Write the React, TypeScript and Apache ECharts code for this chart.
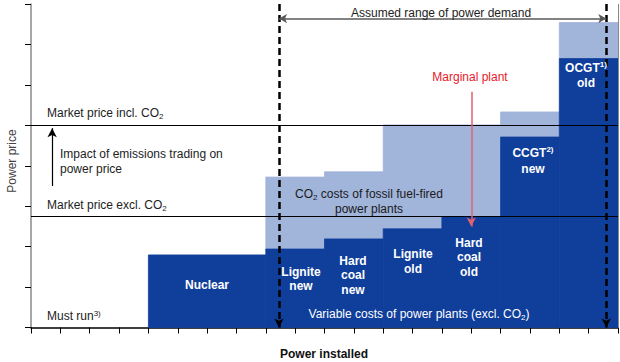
import React, { useEffect, useRef } from "react";
import * as echarts from "echarts";

// ---- data ----
const plants = ["Nuclear", "Lignite new", "Hard coal new", "Lignite old", "Hard coal old", "CCGT new", "OCGT old"];
const capacityStart = [4, 8, 10, 12, 14, 16, 18];
const capacityEnd = [8, 10, 12, 14, 16, 18, 20];
const variableCost = [1.79, 1.94, 2.19, 2.44, 2.73, 4.71, 6.65];
const costInclCO2 = [1.79, 3.72, 3.85, 5.01, 5.01, 5.33, 7.54];
const marketPriceIncl = 5.0;
const marketPriceExcl = 2.76;
const demandRange = [8.45, 19.6];
const marginalPlantX = 15;
const xTicks = { min: 0, max: 20, step: 1 };
const yTicks = { min: 0, max: 8, step: 1 };

const DARK = "#0f3e9b";
const LIGHT = "#a1b4da";
const FONT = "'Liberation Sans', Arial, sans-serif";

const sub = (t: string) => ({ n: { fontSize: 12, lineHeight: 14, fontFamily: FONT, fill: t }, s: { fontSize: 8, lineHeight: 8, verticalAlign: "bottom", fontFamily: FONT, fill: t } });

export default function App() {
  const ref = useRef<HTMLDivElement>(null);
  useEffect(() => {
    document.body.style.margin = "0";
    const chart = echarts.init(ref.current!, null, { renderer: "svg" });

    const rectItem = (color: string) => (params: any, api: any) => {
      const p0 = api.coord([api.value(0), api.value(3)]);
      const p1 = api.coord([api.value(1), api.value(2)]);
      return {
        type: "rect",
        shape: { x: p0[0], y: p0[1], width: p1[0] - p0[0], height: p1[1] - p0[1] },
        style: { fill: color, stroke: color, lineWidth: 0.8 },
      };
    };

    const co2Data = plants.map((_, i) => [capacityStart[i], capacityEnd[i], variableCost[i], costInclCO2[i]]);
    const varData = plants.map((_, i) => [capacityStart[i], capacityEnd[i], 0, variableCost[i]]);

    const whiteBold = (text: string, x: number, y: number) => ({
      type: "text",
      x,
      y,
      z: 50,
      style: { text, fill: "#fff", font: `bold 12px ${FONT}`, textAlign: "center", textVerticalAlign: "middle", lineHeight: 14.5 },
    });

    const supLabel = (main: string, sup: string, second: string, x: number, y: number) => ({
      type: "text",
      x,
      y,
      z: 50,
      style: {
        text: `{b|${main}}{s|${sup}}\n{b|${second}}`,
        textAlign: "center",
        textVerticalAlign: "middle",
        rich: {
          b: { fontSize: 12, fontWeight: "bold", lineHeight: 15.5, fontFamily: FONT, fill: "#fff" },
          s: { fontSize: 8, fontWeight: "bold", lineHeight: 8, verticalAlign: "top", fontFamily: FONT, fill: "#fff" },
        },
      },
    });

    chart.setOption({
      animation: false,
      grid: { left: 31, right: 2, top: 4, bottom: 34.5 },
      xAxis: {
        type: "value",
        min: xTicks.min,
        max: xTicks.max,
        interval: xTicks.step,
        axisLine: { show: true, onZero: false, lineStyle: { color: "#000", width: 1.5 } },
        axisTick: { show: true, length: 6, lineStyle: { color: "#000", width: 1 } },
        axisLabel: { show: false },
        splitLine: { show: false },
      },
      yAxis: {
        type: "value",
        min: yTicks.min,
        max: yTicks.max,
        interval: yTicks.step,
        axisLine: { show: true, onZero: false, lineStyle: { color: "#8a8a8a", width: 1.5 } },
        axisTick: { show: true, length: 6, lineStyle: { color: "#000", width: 1 } },
        axisLabel: { show: false },
        splitLine: { show: false },
      },
      series: [
        { type: "custom", renderItem: rectItem(LIGHT), data: co2Data, encode: { x: [0, 1], y: [2, 3] }, z: 2, silent: true },
        { type: "custom", renderItem: rectItem(DARK), data: varData, encode: { x: [0, 1], y: [2, 3] }, z: 3, silent: true },
        {
          type: "line",
          data: [],
          z: 5,
          markLine: {
            silent: true,
            symbol: ["none", "none"],
            label: { show: false },
            lineStyle: { color: "#000", width: 1.2, type: "solid" },
            data: [
              [{ coord: [xTicks.min, marketPriceIncl] }, { coord: [xTicks.max, marketPriceIncl] }],
              [{ coord: [xTicks.min, marketPriceExcl] }, { coord: [xTicks.max, marketPriceExcl] }],
              [{ coord: [xTicks.max, yTicks.min], lineStyle: { color: "#8a8a8a", width: 1 } }, { coord: [xTicks.max, yTicks.max] }],
            ],
          },
        },
        {
          type: "line",
          data: [],
          z: 6,
          markLine: {
            silent: true,
            symbol: ["none", "arrow"],
            symbolSize: [7, 9],
            label: { show: false },
            lineStyle: { color: "#000", width: 2.5, type: [7, 4] },
            data: [
              [{ coord: [demandRange[0], yTicks.max] }, { coord: [demandRange[0], yTicks.min] }],
              [{ coord: [demandRange[1], yTicks.max] }, { coord: [demandRange[1], yTicks.min] }],
            ],
          },
        },
        {
          type: "line",
          data: [],
          z: 7,
          markLine: {
            silent: true,
            symbol: ["arrow", "arrow"],
            symbolSize: [7, 8],
            label: { show: false },
            lineStyle: { color: "#5a5a5a", width: 1.5, type: "solid" },
            data: [[{ coord: [demandRange[0], 7.64] }, { coord: [demandRange[1], 7.64] }]],
          },
        },
        {
          type: "line",
          data: [],
          z: 7,
          markLine: {
            silent: true,
            symbol: ["none", "arrow"],
            symbolSize: [7, 9],
            label: { show: false },
            data: [
              [{ coord: [marginalPlantX, 5.83], lineStyle: { color: "#e06070", width: 1.5, type: "solid" }, itemStyle: { color: "#e8202a" } }, { coord: [marginalPlantX, 2.5] }],
              [{ coord: [0.72, 3.5], lineStyle: { color: "#000", width: 1.2, type: "solid" }, itemStyle: { color: "#000" } }, { coord: [0.72, 4.93] }],
            ],
          },
        },
      ],
      graphic: [
        { type: "text", x: 441, y: 12.5, z: 50, style: { text: "Assumed range of power demand", fill: "#222", font: `12px ${FONT}`, textAlign: "center", textVerticalAlign: "middle" } },
        { type: "text", x: 470, y: 77, z: 50, style: { text: "Marginal plant", fill: "#e8202a", font: `12px ${FONT}`, textAlign: "center", textVerticalAlign: "middle" } },
        { type: "text", x: 47, y: 113, z: 50, style: { text: "{n|Market price incl. CO}{s|2}", rich: sub("#222"), textAlign: "left", textVerticalAlign: "middle" } },
        { type: "text", x: 60, y: 161.5, z: 50, style: { text: "Impact of emissions trading on\npower price", fill: "#222", font: `12px ${FONT}`, lineHeight: 15, textAlign: "left", textVerticalAlign: "middle" } },
        { type: "text", x: 47, y: 205, z: 50, style: { text: "{n|Market price excl. CO}{s|2}", rich: sub("#222"), textAlign: "left", textVerticalAlign: "middle" } },
        {
          type: "text", x: 47, y: 316, z: 50,
          style: {
            text: "{n|Must run}{s|3)}", textAlign: "left", textVerticalAlign: "middle",
            rich: { n: { fontSize: 12, lineHeight: 14, fontFamily: FONT, fill: "#222" }, s: { fontSize: 8, lineHeight: 8, verticalAlign: "top", fontFamily: FONT, fill: "#222" } },
          },
        },
        { type: "text", x: 12, y: 161, rotation: Math.PI / 2, z: 50, style: { text: "Power price", fill: "#444", font: `12px ${FONT}`, textAlign: "center", textVerticalAlign: "middle" } },
        { type: "text", x: 324, y: 354, z: 50, style: { text: "Power installed", fill: "#111", font: `bold 12px ${FONT}`, textAlign: "center", textVerticalAlign: "middle" } },
        { type: "text", x: 369, y: 194, z: 50, style: { text: "{n|CO}{s|2}{n| costs of fossil fuel-fired}", rich: sub("#1a1a1a"), textAlign: "center", textVerticalAlign: "middle" } },
        { type: "text", x: 369, y: 209, z: 50, style: { text: "power plants", fill: "#1a1a1a", font: `12px ${FONT}`, textAlign: "center", textVerticalAlign: "middle" } },
        { type: "text", x: 419, y: 314, z: 50, style: { text: "{n|Variable costs of power plants (excl. CO}{s|2}{n|)}", rich: sub("#fff"), textAlign: "center", textVerticalAlign: "middle" } },
        whiteBold("Nuclear", 207, 285),
        whiteBold("Lignite\nnew", 301, 279),
        whiteBold("Hard\ncoal\nnew", 353, 275),
        whiteBold("Lignite\nold", 413, 261.5),
        whiteBold("Hard\ncoal\nold", 469, 257),
        supLabel("CCGT", "2)", "new", 533, 161),
        supLabel("OCGT", "1)", "old", 586, 75.5),
      ],
    });
    return () => chart.dispose();
  }, []);
  return <div ref={ref} style={{ width: 620, height: 362 }} />;
}
